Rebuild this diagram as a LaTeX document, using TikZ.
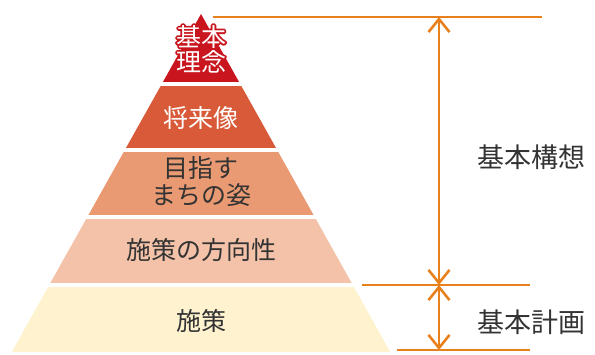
\documentclass[tikz,border=0pt]{standalone}
\usepackage{fontspec}
\setmainfont{Noto Sans CJK JP}
\usetikzlibrary{arrows.meta}
\definecolor{lay1}{HTML}{C9161E}
\definecolor{lay2}{HTML}{D85A38}
\definecolor{lay3}{HTML}{E99A72}
\definecolor{lay4}{HTML}{F3C2A8}
\definecolor{lay5}{HTML}{FEF2CF}
\definecolor{arr}{HTML}{E8801E}
\definecolor{txt}{HTML}{333333}
\newcommand{\halostart}{\special{pdf:literal direct 2 Tr 3.6 w 1 j}}
\newcommand{\haloend}{\special{pdf:literal direct 0 Tr}}
\tikzset{
  lbl/.style={font=\fontsize{25}{27}\selectfont, align=center, inner sep=0pt, text=txt},
  wlbl/.style={lbl, text=white},
  toplbl/.style={font=\fontsize{25}{25}\selectfont, align=center, inner sep=0pt},
  guide/.style={draw=arr, line width=1.8pt},
  barb/.tip={Straight Barb[length=13pt,width=21pt,line width=2.6pt]},
  dim/.style={draw=arr, line width=1.6pt, barb-barb}
}
\begin{document}
\begin{tikzpicture}[x=1pt,y=-1pt]
\useasboundingbox (0,0) rectangle (595,354);
\begin{scope}
\clip (201,14) -- (390.3,352) -- (11.7,352) -- cycle;
\fill[lay1] (0,0) rectangle (595,82);
\fill[lay2] (0,86) rectangle (595,148);
\fill[lay3] (0,152) rectangle (595,215);
\fill[lay4] (0,219) rectangle (595,283);
\fill[lay5] (0,287) rectangle (595,352);
\end{scope}
\node[toplbl, text=lay1] (l1h) at (201,49) {\halostart 基本\\理念\haloend};
\node[toplbl, text=white] (l1) at (201,49) {基本\\理念};
\node[wlbl] (l2) at (201,118) {将来像};
\node[lbl] (l3) at (201,182) {目指す\\まちの姿};
\node[lbl] (l4) at (201,250) {施策の方向性};
\node[lbl] (l5) at (201,321) {施策};
\coordinate (t0) at (213,17);
\coordinate (t2) at (542,17);
\coordinate (m0) at (362,285);
\coordinate (m2) at (530,285);
\coordinate (b0) at (397,350);
\coordinate (b2) at (530,350);
\coordinate (ta) at (439,17);
\coordinate (ma) at (439,285);
\coordinate (ba) at (439,350);
\draw[guide] (t0) -- (t2);
\draw[guide] (m0) -- (m2);
\draw[guide] (b0) -- (b2);
\draw[dim] (ta) -- (ma);
\draw[dim] (ma) -- (ba);
\node[lbl, font=\fontsize{27}{29}\selectfont] (k1) at (531,157) {基本構想};
\node[lbl, font=\fontsize{27}{29}\selectfont] (k2) at (531,322) {基本計画};
\end{tikzpicture}
\end{document}
